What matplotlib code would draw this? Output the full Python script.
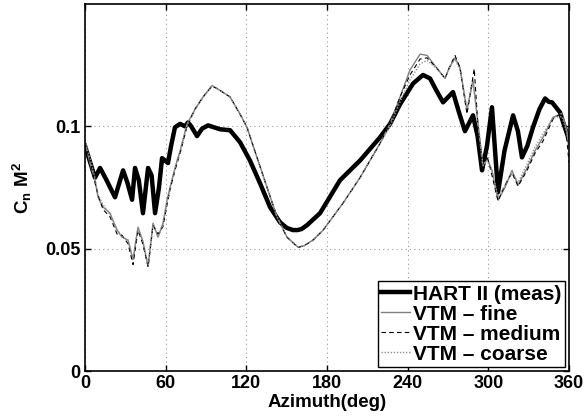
import numpy as np
import matplotlib
matplotlib.use('Agg')
import matplotlib.pyplot as plt

hart_psi = [0, 7.4, 11.2, 16, 22.3, 28.3, 31.5, 35, 37.2, 40, 43.1, 46.9, 49.5, 52.1,
            55, 57.3, 59.5, 61.7, 64, 66.9, 70.7, 74.4, 76.6, 79, 83.3, 87, 91.5, 100.4,
            107.9, 115.3, 122.7, 130.2, 137.6, 145, 150, 154.7, 158, 161, 165.1, 174.8,
            189.7, 204.5, 219.4, 226.9, 234.3, 244, 251.4, 256.6, 261, 266.3, 273.7,
            278, 282.6, 288.6, 292, 295.3, 299, 302.7, 305, 307.2, 312, 318.4, 322,
            325, 329, 333.2, 338, 342.2, 345, 347.4, 353.3, 356, 360]
hart_cn = [0.092, 0.079, 0.083, 0.078, 0.071, 0.082, 0.077, 0.070, 0.083, 0.078, 0.0645,
           0.083, 0.080, 0.0645, 0.075, 0.087, 0.086, 0.085, 0.092, 0.0996, 0.101,
           0.100, 0.1016, 0.1000, 0.096, 0.099, 0.1004, 0.0988, 0.0984, 0.0935, 0.086,
           0.0767, 0.067, 0.0608, 0.0585, 0.0576, 0.0576, 0.058, 0.0596, 0.0645, 0.078,
           0.086, 0.0955, 0.101, 0.109, 0.1175, 0.121, 0.1196, 0.115, 0.1098, 0.114,
           0.106, 0.098, 0.1045, 0.096, 0.082, 0.092, 0.1078, 0.090, 0.073, 0.090,
           0.1045, 0.098, 0.0873, 0.092, 0.0996, 0.107, 0.1114, 0.110, 0.1098,
           0.1057, 0.101, 0.0945]

# VTM fine grid
fine_psi = [0, 3.7, 7.4, 9.7, 13.4, 18.6, 23.8, 27.5, 32, 35.7, 39.4, 43, 46.9, 50.6,
            54.3, 58, 61, 63.2, 66.9, 70.7, 75.9, 81.8, 87.8, 94.5, 100.4, 107.9,
            115.3, 120.5, 127.9, 135.4, 142.8, 150.2, 158.4, 163, 169.6, 177, 191.9,
            204.5, 219.4, 226.9, 234.3, 241.7, 249.2, 254.4, 261.8, 267.8, 271, 275.2,
            278.9, 284.1, 288.6, 292.3, 296, 299, 302.7, 307.2, 312.4, 317.6, 322.1,
            328.8, 334.7, 340.7, 348.1, 354.8, 358.5, 360]
fine_cn = [0.0935, 0.085, 0.078, 0.071, 0.067, 0.0645, 0.0575, 0.0547, 0.0535, 0.0455,
           0.0588, 0.053, 0.0428, 0.0604, 0.0547, 0.0604, 0.0698, 0.075, 0.083, 0.090,
           0.101, 0.107, 0.112, 0.1167, 0.1147, 0.112, 0.105, 0.0996, 0.0873, 0.075,
           0.063, 0.0547, 0.0506, 0.0512, 0.0535, 0.0575, 0.0686, 0.079, 0.093, 0.101,
           0.112, 0.123, 0.1295, 0.129, 0.1237, 0.1196, 0.124, 0.128, 0.124, 0.1065,
           0.119, 0.101, 0.083, 0.087, 0.082, 0.0698, 0.075, 0.082, 0.076, 0.083,
           0.090, 0.0955, 0.1037, 0.1053, 0.098, 0.090]

# VTM medium grid
med_psi = [0, 3.7, 7.4, 9.7, 13.4, 18.6, 23.8, 27.5, 32, 35.7, 39.4, 43, 46.9, 50.6,
           54.3, 58, 61, 63.2, 66.9, 70.7, 75.9, 81.8, 87.8, 94.5, 100.4, 107.9,
           115.3, 120.5, 127.9, 135.4, 142.8, 150.2, 158.4, 163, 169.6, 177, 191.9,
           204.5, 219.4, 226.9, 234.3, 241.7, 249.2, 254.4, 261.8, 267.8, 271, 275.2,
           278.9, 284.1, 289.5, 292.3, 296, 299, 302.7, 307.2, 312.4, 317.6, 322.1,
           328.8, 334.7, 340.7, 348.1, 354.8, 358.5, 360]
med_cn = [0.093, 0.086, 0.077, 0.072, 0.066, 0.063, 0.056, 0.0555, 0.052, 0.0435,
          0.0575, 0.052, 0.0425, 0.0595, 0.056, 0.059, 0.068, 0.074, 0.082, 0.089,
          0.100, 0.107, 0.112, 0.1165, 0.1147, 0.112, 0.105, 0.0996, 0.0873, 0.075,
          0.063, 0.0547, 0.0505, 0.0512, 0.0535, 0.0575, 0.0686, 0.079, 0.093, 0.101,
          0.112, 0.121, 0.1275, 0.128, 0.1237, 0.1196, 0.124, 0.129, 0.124, 0.105,
          0.1235, 0.100, 0.082, 0.088, 0.080, 0.0695, 0.076, 0.081, 0.0755, 0.082,
          0.089, 0.094, 0.103, 0.1055, 0.094, 0.085]

# VTM coarse grid
coarse_psi = [0, 3.7, 7.4, 9.7, 13.4, 18.6, 23.8, 27.5, 32, 35.7, 39.4, 43, 46.9, 50.6,
              54.3, 58, 61, 63.2, 66.9, 70.7, 75.9, 81.8, 87.8, 94.5, 100.4, 107.9,
              115.3, 120.5, 127.9, 135.4, 142.8, 150.2, 158.4, 163, 169.6, 177, 191.9,
              204.5, 219.4, 226.9, 234.3, 241.7, 249.2, 254.4, 261.8, 267.8, 271, 275.2,
              278.9, 284.1, 288.6, 292.3, 296, 299, 302.7, 307.2, 312.4, 317.6, 322.1,
              328.8, 334.7, 340.7, 348.1, 354.8, 358.5, 360]
coarse_cn = [0.094, 0.087, 0.079, 0.072, 0.068, 0.064, 0.058, 0.055, 0.0535, 0.046,
             0.0585, 0.053, 0.0435, 0.060, 0.055, 0.0595, 0.069, 0.074, 0.0825, 0.0895,
             0.1005, 0.1068, 0.1118, 0.1165, 0.1147, 0.112, 0.105, 0.0996, 0.0873,
             0.075, 0.063, 0.0547, 0.0507, 0.0512, 0.0535, 0.0575, 0.0686, 0.079, 0.093,
             0.100, 0.110, 0.119, 0.1255, 0.127, 0.1235, 0.1196, 0.124, 0.1275, 0.123,
             0.1075, 0.118, 0.102, 0.084, 0.086, 0.082, 0.071, 0.076, 0.0815, 0.077,
             0.0845, 0.0915, 0.097, 0.1035, 0.104, 0.097, 0.090]

plt.rcParams['font.family'] = ['Liberation Sans', 'DejaVu Sans']
plt.rcParams['font.weight'] = 'bold'
plt.rcParams['mathtext.fontset'] = 'custom'
plt.rcParams['mathtext.bf'] = 'Liberation Sans:bold'
plt.rcParams['mathtext.rm'] = 'Liberation Sans:bold'
plt.rcParams['mathtext.default'] = 'bf'

fig = plt.figure(figsize=(5.88, 4.17), dpi=100)
ax = fig.add_axes([0.1446, 0.1103, 0.8231, 0.8801])

ax.plot(hart_psi, hart_cn, color='black', lw=3.2, solid_joinstyle='round', label='HART II (meas)')
ax.plot(fine_psi, fine_cn, color='#808080', lw=1.0, label='VTM \u2013 fine')
ax.plot(med_psi, med_cn, color='black', lw=0.8, ls=(0, (4, 3)), label='VTM \u2013 medium')
ax.plot(coarse_psi, coarse_cn, color='#909090', lw=1.0, ls=(0, (1, 1.2)), label='VTM \u2013 coarse')

ax.set_xlim(0, 360)
ax.set_ylim(0, 0.15)
ax.set_xticks([0, 60, 120, 180, 240, 300, 360])
ax.set_yticks([0, 0.05, 0.1])
ax.set_yticklabels(['0', '0.05', '0.1'])
ax.grid(True, color='#999999', ls=(0, (1, 3)), lw=0.8)
ax.tick_params(direction='in', top=True, right=True, labelsize=13, length=4, width=1, pad=3)
for lab in ax.get_xticklabels() + ax.get_yticklabels():
    lab.set_fontweight('bold')
for sp in ax.spines.values():
    sp.set_linewidth(1.2)

ax.set_xlabel('Azimuth(deg)', fontsize=13.5, fontweight='bold', labelpad=1)
ax.set_ylabel(r'C$_{n}$ M$^{2}$', fontsize=13.5, fontweight='bold', labelpad=8)

leg = ax.legend(loc='lower right', handlelength=1.4, handletextpad=0.15,
                borderpad=0.15, labelspacing=0.05, borderaxespad=0.2, fancybox=False,
                framealpha=1, prop={'weight': 'bold', 'size': 15})
leg.get_frame().set_edgecolor('black')
leg.get_frame().set_linewidth(1.0)

fig.savefig('out.png', dpi=100)
